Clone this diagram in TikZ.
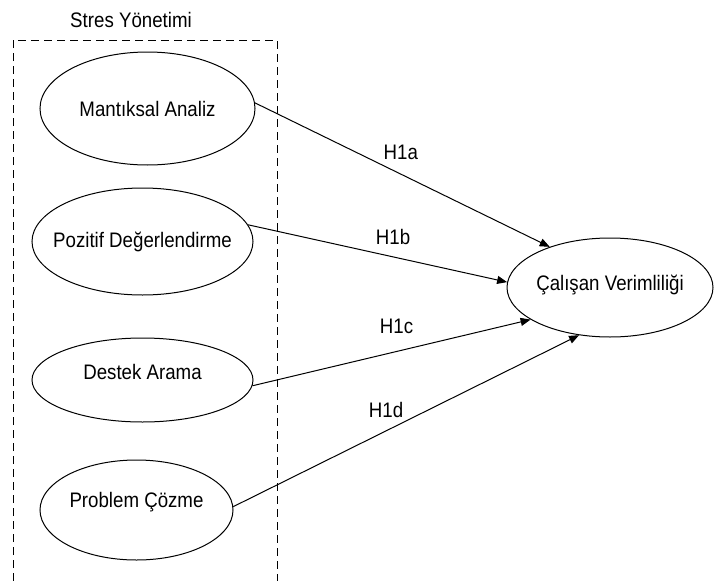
\documentclass[tikz,border=0pt]{standalone}
\usepackage{fontspec}
\setmainfont[FakeStretch=0.89]{Liberation Sans}
\usetikzlibrary{shapes.geometric,arrows.meta}

\begin{document}
\begin{tikzpicture}[x=1pt,y=-1pt,
  font=\fontsize{21}{25}\selectfont,
  oval/.style={draw,ellipse,line width=1pt,inner xsep=-15pt,inner ysep=0pt,text height=15pt,text depth=3pt},
  hyp/.style={-{Triangle[length=10pt,width=8pt]},line width=1pt}]
\useasboundingbox (0,0) rectangle (715,581);
\draw[dash pattern=on 8pt off 5pt,line width=1pt] (13,581) -- (13,40) -- (277,40) -- (277,581);
\node (title) at (131,20) {Stres Yönetimi};
\node[oval,minimum width=215pt,minimum height=113pt,text depth=0pt] (mantik) at (147.5,108.5) {Mantıksal Analiz};
\node[oval,minimum width=221pt,minimum height=107pt] (pozitif) at (142.5,241.5) {Pozitif Değerlendirme};
\node[oval,minimum width=221pt,minimum height=84pt,text depth=16pt] (destek) at (142.5,380) {Destek Arama};
\node[oval,minimum width=193pt,minimum height=100pt,text depth=20pt] (problem) at (136.5,510) {Problem Çözme};
\node[oval,minimum width=206pt,minimum height=99pt,text depth=9pt] (verim) at (610,287.5) {Çalışan Verimliliği};
\foreach \src/\a/\b/\lab/\p/\off in {mantik/3/146.8/H1a/0.495/11pt,pozitif/9/177.5/H1b/0.56/8.7pt,destek/357/202.6/H1c/0.518/14pt,problem/2/237.8/H1d/0.442/9pt}
\draw[hyp] (\src.\a) -- (verim.\b) node[pos=\p,above=\off] {\lab};
\end{tikzpicture}
\end{document}
